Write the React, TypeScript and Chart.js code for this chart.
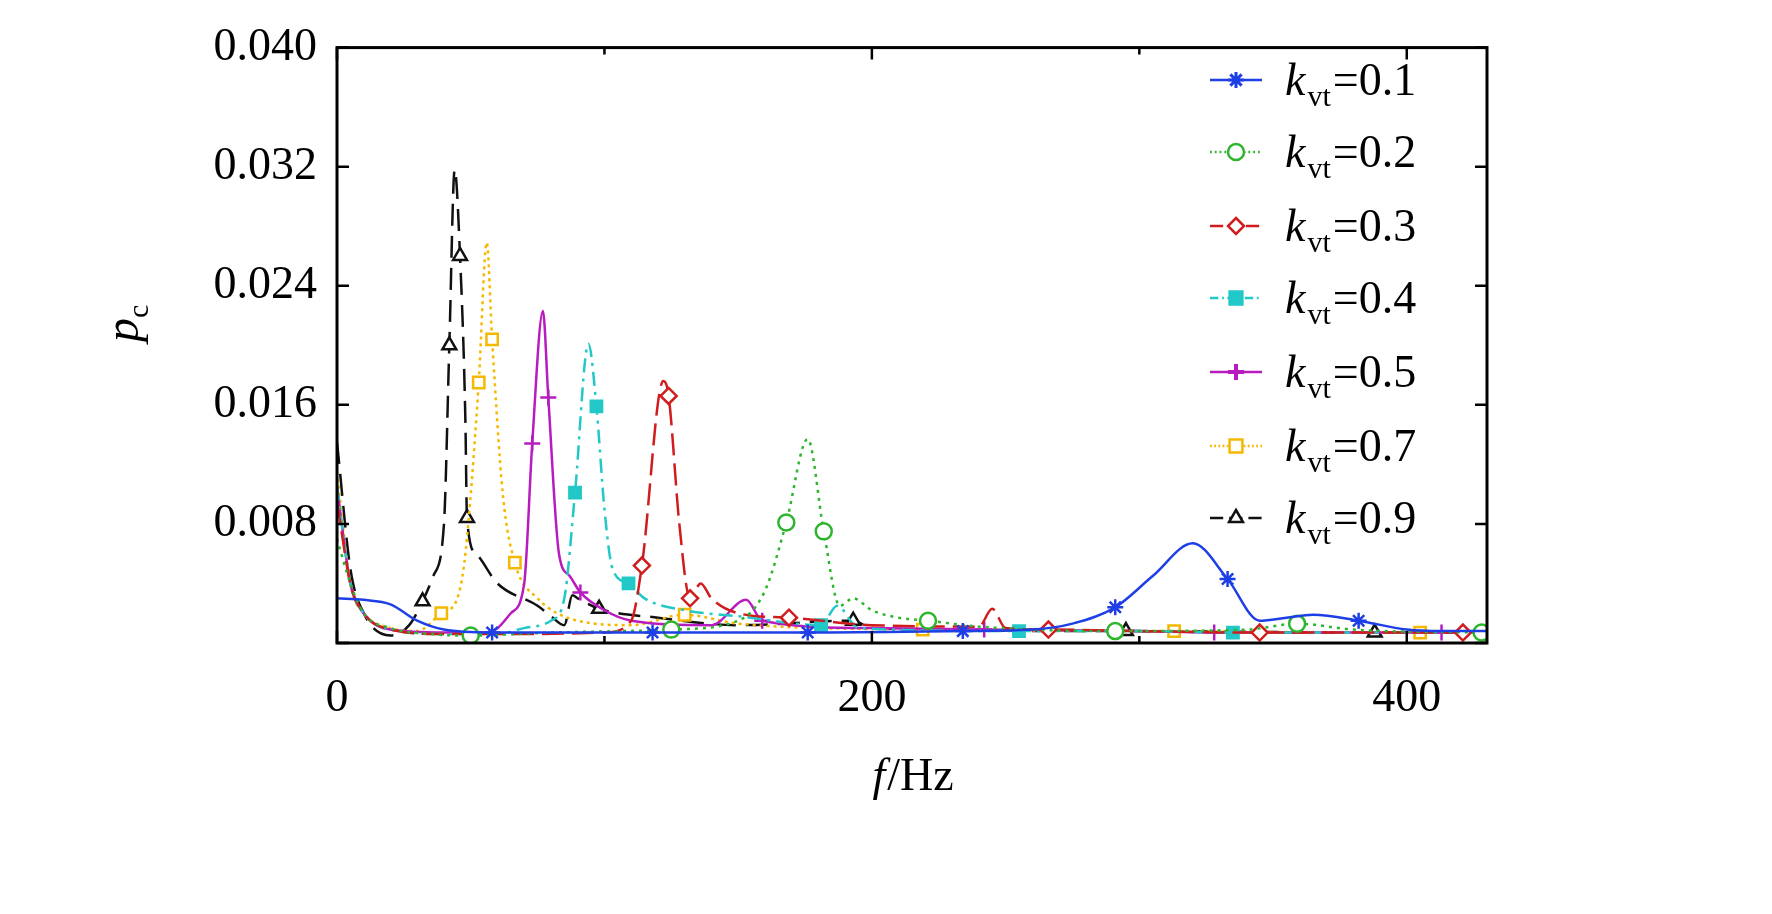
import React, { useEffect, useRef } from "react";
import { Chart, registerables } from "chart.js";
Chart.register(...registerables);

const labels = ["0.1", "0.2", "0.3", "0.4", "0.5", "0.7", "0.9"];
const colors = ["#1f3fe6", "#2db52d", "#d01c1c", "#22c8c8", "#b81cc0", "#f5b800", "#111111"];
const dashes = [[], [3, 5], [22, 8], [14, 6, 3, 6], [], [3, 4], [22, 10]];
const styles = ["star", "circle", "rectRot", "rect", "cross", "rect", "triangle"];
const filled = [true, false, false, true, true, false, false];

const f01 = [0, 10, 20, 30, 40, 58, 118, 176, 234, 260, 275, 291, 305, 320, 333, 345, 355, 365, 382, 400, 413, 430];
const v01 = [0.003, 0.0029, 0.0026, 0.0015, 0.0009, 0.0007, 0.0007, 0.0007, 0.0008, 0.0009, 0.0013, 0.0024, 0.0045, 0.0067, 0.0043, 0.0015, 0.0017, 0.0019, 0.0015, 0.0009, 0.0008, 0.0008];
const m01 = [58, 118, 176, 234, 291, 333, 382];

const f02 = [0, 5, 10, 20, 35, 50, 80, 125, 150, 160, 168, 176, 182, 188, 193, 200, 210, 221, 240, 291, 340, 359, 380, 428];
const v02 = [0.007, 0.004, 0.002, 0.001, 0.0006, 0.0005, 0.0007, 0.0009, 0.0015, 0.0035, 0.0081, 0.0137, 0.0075, 0.0025, 0.003, 0.0022, 0.0017, 0.0015, 0.0011, 0.0008, 0.0009, 0.0013, 0.0009, 0.0007];
const m02 = [50, 125, 168, 182, 221, 291, 359, 428];

const f03 = [0, 5, 10, 20, 40, 70, 100, 110, 114, 122, 124, 128, 132, 136, 140, 150, 169, 200, 240, 245, 250, 266, 300, 345, 421, 430];
const v03 = [0.0095, 0.004, 0.002, 0.0009, 0.0006, 0.0006, 0.0007, 0.0015, 0.0052, 0.0176, 0.0166, 0.008, 0.003, 0.004, 0.003, 0.002, 0.0017, 0.0012, 0.0011, 0.0023, 0.001, 0.0009, 0.0008, 0.0007, 0.0007, 0.0007];
const m03 = [114, 124, 132, 169, 266, 345, 421];

const f04 = [0, 5, 10, 20, 40, 60, 70, 80, 85, 89, 94, 97, 100, 103, 109, 115, 130, 150, 181, 187, 195, 255, 300, 335, 430];
const v04 = [0.0105, 0.004, 0.002, 0.0009, 0.0006, 0.0006, 0.001, 0.0015, 0.003, 0.0101, 0.0201, 0.0159, 0.009, 0.005, 0.004, 0.003, 0.0022, 0.0018, 0.0012, 0.0025, 0.001, 0.0008, 0.0008, 0.0007, 0.0007];
const m04 = [89, 97, 109, 181, 255, 335];

const f05 = [0, 5, 10, 20, 40, 55, 60, 65, 70, 73, 77, 79, 83, 87, 91, 100, 110, 140, 153, 159, 200, 242, 300, 328, 413, 430];
const v05 = [0.0105, 0.004, 0.002, 0.0009, 0.0007, 0.0007, 0.001, 0.002, 0.004, 0.0134, 0.0223, 0.0165, 0.006, 0.0045, 0.0034, 0.0022, 0.0015, 0.0012, 0.0029, 0.0015, 0.001, 0.0009, 0.0008, 0.0007, 0.0007, 0.0007];
const m05 = [73, 79, 91, 159, 242, 328, 413];

const f07 = [0, 5, 10, 20, 30, 39, 45, 48, 53, 56, 58, 62, 66.5, 75, 90, 110, 130, 150, 219, 313, 405, 430];
const v07 = [0.0115, 0.004, 0.002, 0.001, 0.0008, 0.002, 0.003, 0.006, 0.0175, 0.0269, 0.0204, 0.01, 0.0054, 0.003, 0.0015, 0.0012, 0.0019, 0.0013, 0.0009, 0.0008, 0.0007, 0.0007];
const m07 = [39, 53, 58, 66.5, 130, 219, 313, 405];

const f09 = [0, 5, 10, 20, 27, 32, 36, 40, 42, 44, 46, 48, 48.6, 52, 60, 75, 80, 85, 88, 90, 98, 120, 150, 193, 200, 295, 388, 430];
const v09 = [0.0135, 0.005, 0.002, 0.0005, 0.0012, 0.0028, 0.0045, 0.008, 0.02, 0.0318, 0.026, 0.015, 0.0084, 0.006, 0.004, 0.0025, 0.0018, 0.0012, 0.0032, 0.003, 0.0023, 0.0017, 0.0012, 0.0015, 0.001, 0.0008, 0.0007, 0.0007];
const m09 = [32, 42, 46, 48.6, 98, 193, 295, 388];

const fs = [f01, f02, f03, f04, f05, f07, f09];
const vs = [v01, v02, v03, v04, v05, v07, v09];
const ms = [m01, m02, m03, m04, m05, m07, m09];

const yTicks = [0, 0.008, 0.016, 0.024, 0.032, 0.04];
const xTicks = [0, 200, 400];
const FONT = '"Liberation Serif", "Times New Roman", serif';

function marker(c: CanvasRenderingContext2D, style: string, x: number, y: number, r: number, col: string, fill: boolean) {
  c.save();
  c.setLineDash([]);
  c.strokeStyle = col; c.fillStyle = fill ? col : "#fff"; c.lineWidth = 2.5;
  c.beginPath();
  if (style === "circle") { c.arc(x, y, r, 0, Math.PI * 2); c.fill(); c.stroke(); }
  else if (style === "rect") { const s = r * 0.8; c.rect(x - s, y - s, 2 * s, 2 * s); c.fill(); c.stroke(); }
  else if (style === "rectRot") { c.moveTo(x, y - r); c.lineTo(x + r, y); c.lineTo(x, y + r); c.lineTo(x - r, y); c.closePath(); c.fill(); c.stroke(); }
  else if (style === "triangle") { c.moveTo(x, y - r); c.lineTo(x + r * 0.87, y + r / 2); c.lineTo(x - r * 0.87, y + r / 2); c.closePath(); c.fill(); c.stroke(); }
  else if (style === "cross") { c.lineWidth = 4; c.moveTo(x - r, y); c.lineTo(x + r, y); c.moveTo(x, y - r); c.lineTo(x, y + r); c.stroke(); }
  else { c.lineWidth = 3; for (let k = 0; k < 4; k++) { const a = (k * Math.PI) / 4; c.moveTo(x - r * Math.cos(a), y - r * Math.sin(a)); c.lineTo(x + r * Math.cos(a), y + r * Math.sin(a)); } c.stroke(); }
  c.restore();
}

export default function App() {
  const ref = useRef<HTMLCanvasElement>(null);
  useEffect(() => {
    const datasets = fs.map((f, i) => ({
      label: labels[i],
      data: f.map((x, j) => ({ x, y: vs[i][j] })),
      borderColor: colors[i],
      backgroundColor: filled[i] ? colors[i] : "#ffffff",
      borderWidth: 2.5,
      borderDash: dashes[i],
      cubicInterpolationMode: "monotone" as const,
      pointStyle: styles[i],
      pointRadius: (ctx: any) => (ms[i].includes(f[ctx.dataIndex]) ? 8 : 0),
      pointBorderWidth: 2.5,
      pointBorderColor: colors[i],
    }));
    const deco = {
      id: "deco",
      afterDraw(chart: any) {
        const c = chart.ctx;
        const a = chart.chartArea;
        const xs = chart.scales.x, ys = chart.scales.y;
        c.save();
        c.strokeStyle = "#000";
        c.lineWidth = 3;
        c.setLineDash([]);
        c.strokeRect(a.left, a.top, a.right - a.left, a.bottom - a.top);
        c.lineWidth = 2.5;
        yTicks.forEach((t) => {
          const y = ys.getPixelForValue(t);
          c.beginPath(); c.moveTo(a.left, y); c.lineTo(a.left + 12, y);
          c.moveTo(a.right, y); c.lineTo(a.right - 12, y); c.stroke();
        });
        [0, 100, 200, 300, 400].forEach((t) => {
          const x = xs.getPixelForValue(t);
          const L = t % 200 === 0 ? 12 : 7;
          c.beginPath(); c.moveTo(x, a.bottom); c.lineTo(x, a.bottom - L);
          c.moveTo(x, a.top); c.lineTo(x, a.top + L); c.stroke();
        });
        c.fillStyle = "#000";
        c.textBaseline = "alphabetic";
        c.font = `italic 46px ${FONT}`;
        const w1 = c.measureText("f").width;
        c.font = `46px ${FONT}`;
        const w2 = c.measureText("/Hz").width;
        const sx = (a.left + a.right) / 2 - (w1 + w2) / 2;
        c.font = `italic 46px ${FONT}`; c.fillText("f", sx, 790);
        c.font = `46px ${FONT}`; c.fillText("/Hz", sx + w1 + 2, 790);
        c.save();
        c.translate(138, 330); c.rotate(-Math.PI / 2);
        c.font = `italic 48px ${FONT}`; c.textAlign = "center"; c.fillText("p", 0, 0);
        c.font = `30px ${FONT}`; c.textAlign = "left"; c.fillText("c", 12, 10);
        c.restore();
        const ly = [80, 152, 226, 298, 372, 446, 518];
        labels.forEach((lab, i) => {
          const y = ly[i];
          c.strokeStyle = colors[i]; c.lineWidth = 2.5;
          c.setLineDash(dashes[i].map((d) => d * 0.6));
          c.beginPath(); c.moveTo(1210, y); c.lineTo(1262, y); c.stroke();
          c.setLineDash([]);
          marker(c, styles[i], 1236, y, 8, colors[i], filled[i]);
          c.fillStyle = "#000";
          c.font = `italic 46px ${FONT}`; c.fillText("k", 1285, y + 15);
          const kw = c.measureText("k").width;
          c.font = `30px ${FONT}`; c.fillText("vt", 1285 + kw + 2, y + 26);
          const vw = c.measureText("vt").width;
          c.font = `46px ${FONT}`; c.fillText("=" + lab, 1285 + kw + vw + 4, y + 15);
        });
        c.restore();
      },
    };
    const chart = new Chart(ref.current!, {
      type: "line",
      data: { datasets: datasets as any },
      plugins: [deco],
      options: {
        animation: false,
        responsive: false,
        layout: { padding: { top: 27, right: 285, left: 0, bottom: 0 } },
        plugins: { legend: { display: false }, tooltip: { enabled: false } },
        scales: {
          x: {
            type: "linear", min: 0, max: 430,
            afterBuildTicks: (s: any) => { s.ticks = xTicks.map((v) => ({ value: v })); },
            afterFit: (s: any) => { s.height = 914 - 643; },
            grid: { display: false, drawTicks: false },
            border: { display: false },
            ticks: { font: { family: FONT, size: 46 }, color: "#000", padding: 28, callback: (v: any) => String(v) },
          },
          y: {
            type: "linear", min: 0, max: 0.04,
            afterBuildTicks: (s: any) => { s.ticks = yTicks.map((v) => ({ value: v })); },
            afterFit: (s: any) => { s.width = 337; },
            grid: { display: false, drawTicks: false },
            border: { display: false },
            ticks: { font: { family: FONT, size: 46 }, color: "#000", padding: 20, callback: (v: any) => (v === 0 ? "" : Number(v).toFixed(3)) },
          },
        },
      },
    });
    return () => chart.destroy();
  }, []);
  return (
    <div style={{ position: "absolute", left: 0, top: 0, width: 1772, height: 914, background: "#fff" }}>
      <canvas ref={ref} width={1772} height={914} style={{ width: 1772, height: 914 }} />
    </div>
  );
}
